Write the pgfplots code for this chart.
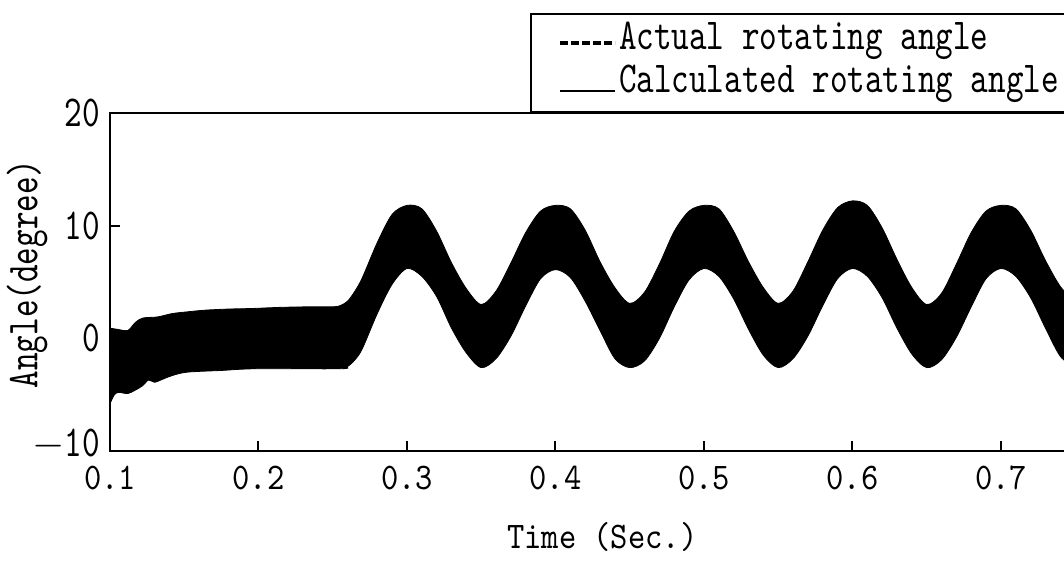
\documentclass[border=0pt]{standalone}
\usepackage{fontspec}
\usepackage{pgfplots}
\usepackage{pgfplotstable}
\pgfplotsset{compat=1.18}
\usepgfplotslibrary{fillbetween}
\newfontfamily\fa[FakeStretch=0.758]{lmmono10-regular.otf}
\newfontfamily\fb[FakeStretch=0.876]{lmmono10-regular.otf}
\newcommand\fontA{\fa\fontsize{22.1pt}{26pt}\selectfont}
\newcommand\fontB{\fb\fontsize{18.8pt}{23pt}\selectfont}

% envelopes of the dense oscillation
\pgfplotstableread{
x y
0.100 0.9
0.105 0.8
0.112 0.7
0.117 1.4
0.122 1.8
0.132 1.9
0.142 2.2
0.152 2.35
0.164 2.5
0.180 2.6
0.196 2.65
0.215 2.75
0.235 2.8
0.250 2.8
0.255 2.9
0.260 3.3
0.265 4.2
0.270 5.4
0.280 8.5
0.290 11.0
0.300 11.8
0.310 11.5
0.320 9.5
0.330 6.7
0.340 4.4
0.350 3.0
0.360 4.2
0.370 6.7
0.380 9.4
0.390 11.3
0.400 11.8
0.410 11.5
0.420 9.6
0.430 6.8
0.440 4.5
0.450 3.1
0.460 4.1
0.470 6.6
0.480 9.5
0.490 11.3
0.500 11.8
0.510 11.5
0.520 9.5
0.530 6.8
0.540 4.5
0.550 3.1
0.560 4.2
0.570 6.8
0.580 9.6
0.590 11.6
0.600 12.2
0.610 11.8
0.620 9.8
0.630 7.0
0.640 4.5
0.650 3.0
0.660 4.0
0.670 6.6
0.680 9.4
0.690 11.3
0.700 11.8
0.710 11.5
0.720 9.6
0.730 6.9
0.740 4.6
0.750 3.2
}\uptab

\pgfplotstableread{
x y
0.100 -5.8
0.103 -5.0
0.106 -4.8
0.112 -4.9
0.117 -4.6
0.122 -4.2
0.126 -3.7
0.130 -3.9
0.136 -3.6
0.142 -3.3
0.152 -3.0
0.175 -2.85
0.198 -2.7
0.255 -2.7
0.260 -2.5
0.265 -1.9
0.270 -0.9
0.280 2.2
0.290 4.8
0.300 6.2
0.310 5.5
0.320 3.7
0.330 0.9
0.340 -1.3
0.350 -2.6
0.360 -1.8
0.370 0.2
0.380 2.9
0.390 5.3
0.400 6.1
0.410 5.4
0.420 3.3
0.430 0.7
0.440 -1.8
0.450 -2.6
0.460 -2.0
0.470 0.0
0.480 2.8
0.490 5.2
0.500 6.2
0.510 5.5
0.520 3.5
0.530 0.8
0.540 -1.5
0.550 -2.6
0.560 -1.8
0.570 0.2
0.580 2.9
0.590 5.3
0.600 6.2
0.610 5.5
0.620 3.6
0.630 0.9
0.640 -1.4
0.650 -2.6
0.660 -1.9
0.670 0.1
0.680 2.8
0.690 5.3
0.700 6.2
0.710 5.5
0.720 3.6
0.730 0.9
0.740 -1.6
0.750 -2.6
}\lowtab

\begin{document}
\begin{tikzpicture}
\begin{axis}[
  at={(0,0)}, anchor=south west,
  width=482.6pt, height=169pt, scale only axis,
  xmin=0.1, xmax=0.75, ymin=-10, ymax=20,
  xtick={0.1,0.2,0.3,0.4,0.5,0.6,0.7},
  xticklabels={0.1,0.2,0.3,0.4,0.5,0.6,0.7},
  ytick={-10,0,10,20},
  yticklabels={\raisebox{8pt}{$-$10},0,10,20},
  xtick pos=bottom, ytick pos=left,
  tick align=inside, major tick length=5pt,
  tick style={black, line width=1pt},
  axis line style={line width=1.25pt},
  xticklabel style={font=\fontB, anchor=center, yshift=-13.5pt},
  yticklabel style={font=\fontA, anchor=east, inner sep=0pt, xshift=-5pt},
  xlabel={Time (Sec.)}, ylabel={Angle(degree)},
  xlabel style={font=\fontB, at={(axis description cs:0.51,-0.254)}, anchor=center},
  ylabel style={font=\fontA, at={(axis description cs:-0.086,0.524)}, anchor=center},
  legend image code/.code={\path[draw=none] (0pt,-6pt) rectangle (27.5pt,6pt);
    \draw[#1] (0pt,0pt) -- (27.5pt,0pt);},
  legend style={at={(rel axis cs:0.4352,1)}, anchor=south west,
    draw=black, line width=1pt, inner xsep=13.5pt, inner ysep=3pt,
    font=\fontA, row sep=0pt,
    nodes={inner sep=0pt, text height=15pt, text depth=6.5pt},
    /tikz/every odd column/.append style={column sep=1pt}},
  legend cell align=left,
]
\addlegendimage{black, line width=2pt, dash pattern=on 4pt off 1.5pt, yshift=-1pt}
\addlegendentry{Actual rotating angle}
\addlegendimage{black, line width=1pt, yshift=-3.5pt}
\addlegendentry{Calculated rotating angle}

\addplot[black, line width=0.4pt, smooth, name path=U, forget plot] table[x=x,y=y] {\uptab};
\addplot[black, line width=0.4pt, smooth, name path=L, forget plot] table[x=x,y=y] {\lowtab};
\addplot[fill=black, draw=none, forget plot] fill between[of=U and L];
\end{axis}
\pgfresetboundingbox
\useasboundingbox (-55pt,-55pt) rectangle (477pt,225.5pt);
\end{tikzpicture}
\end{document}
